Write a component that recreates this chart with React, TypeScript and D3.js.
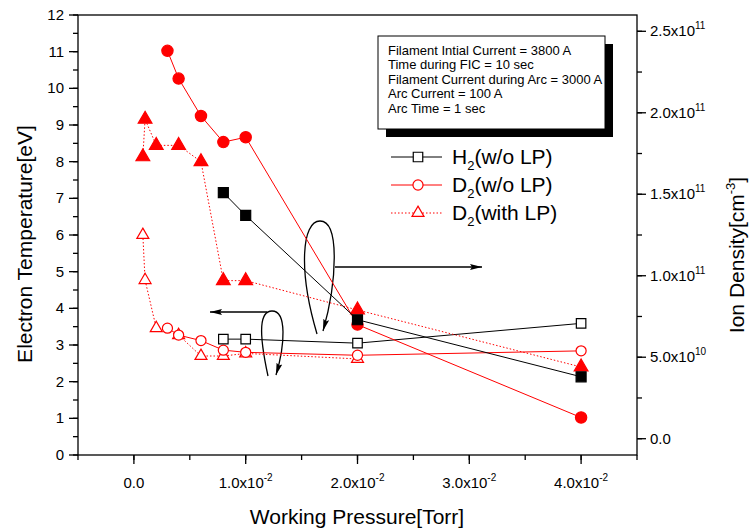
import * as d3 from "d3";

// working pressure [Torr] and values
// ion density (right axis) - filled symbols
const h2DensP = [0.008, 0.01, 0.02, 0.04];
const h2Dens = [1.51e11, 1.37e11, 0.73e11, 0.38e11];
const d2DensP = [0.003, 0.004, 0.006, 0.008, 0.01, 0.02, 0.04];
const d2Dens = [2.38e11, 2.21e11, 1.98e11, 1.82e11, 1.85e11, 0.7e11, 0.13e11];
const d2LpDensP = [0.0008, 0.001, 0.002, 0.004, 0.006, 0.008, 0.01, 0.02, 0.04];
const d2LpDens = [1.73e11, 1.96e11, 1.8e11, 1.8e11, 1.7e11, 0.97e11, 0.97e11, 0.79e11, 0.44e11];

// electron temperature (left axis) - open symbols
const h2TempP = [0.008, 0.01, 0.02, 0.04];
const h2Temp = [3.16, 3.16, 3.05, 3.59];
const d2TempP = [0.003, 0.004, 0.006, 0.008, 0.01, 0.02, 0.04];
const d2Temp = [3.46, 3.27, 3.12, 2.86, 2.8, 2.72, 2.84];
const d2LpTempP = [0.0008, 0.001, 0.002, 0.004, 0.006, 0.008, 0.01, 0.02];
const d2LpTemp = [6.0, 4.77, 3.46, 3.27, 2.7, 2.7, 2.77, 2.62];

const xTicks = [0, 0.01, 0.02, 0.03, 0.04];
const xTickMain = ["0.0", "1.0x10", "2.0x10", "3.0x10", "4.0x10"];
const xTickSup = ["", "-2", "-2", "-2", "-2"];
const leftTicks = [0, 1, 2, 3, 4, 5, 6, 7, 8, 9, 10, 11, 12];
const rightTicks = [0, 5e10, 1e11, 1.5e11, 2e11, 2.5e11];
const rightTickMain = ["0.0", "5.0x10", "1.0x10", "1.5x10", "2.0x10", "2.5x10"];
const rightTickSup = ["", "10", "11", "11", "11", "11"];

const infoLines = [
  "Filament Intial Current = 3800 A",
  "Time during FIC = 10 sec",
  "Filament Current during Arc = 3000 A",
  "Arc Current = 100 A",
  "Arc Time = 1 sec",
];

const FONT = "'Liberation Sans', Arial, sans-serif";
const RED = "#ff0000";

const x = d3.scaleLinear().domain([-0.005, 0.045]).range([78, 637]);
const yL = d3.scaleLinear().domain([0, 12]).range([455, 15]);
const yR = d3.scaleLinear().domain([-0.1e11, 2.6e11]).range([455, 15]);

const zip = (a: number[], b: number[]) => a.map((v, i) => [v, b[i]] as [number, number]);

const sym = (type: d3.SymbolType, size: number) => d3.symbol().type(type).size(size)() as string;
const SQ = sym(d3.symbolSquare, 90);
const SQ_F = sym(d3.symbolSquare, 100);
const CI = sym(d3.symbolCircle, 80);
const CI_F = sym(d3.symbolCircle, 100);
const TRI = sym(d3.symbolTriangle, 62);
const TRI_F = sym(d3.symbolTriangle, 82);

function Series(props: {
  pts: [number, number][];
  y: d3.ScaleLinear<number, number>;
  color: string;
  dash?: string;
  marker: string;
  filled: boolean;
}) {
  const { pts, y, color, dash, marker, filled } = props;
  const line = d3
    .line<[number, number]>()
    .x((d) => x(d[0]))
    .y((d) => y(d[1]));
  return (
    <g>
      <path d={line(pts) || ""} fill="none" stroke={color} strokeWidth={1} strokeDasharray={dash} />
      {pts.map((d, i) => (
        <path
          key={i}
          d={marker}
          transform={`translate(${x(d[0])},${y(d[1])})`}
          fill={filled ? color : "white"}
          stroke={color}
          strokeWidth={1.2}
        />
      ))}
    </g>
  );
}

export default function App() {
  const xMinor = d3.range(-0.005, 0.0451, 0.005);
  const lMinor = d3.range(0, 12.01, 0.5);
  const rMinor = d3.range(0, 2.51e11, 2.5e10);

  const legend = [
    { label: "H", sub: "2", rest: "(w/o LP)", color: "#000", dash: undefined, marker: SQ },
    { label: "D", sub: "2", rest: "(w/o LP)", color: RED, dash: undefined, marker: CI },
    { label: "D", sub: "2", rest: "(with LP)", color: RED, dash: "1.5,2", marker: TRI },
  ];

  return (
    <svg
      width={754}
      height={532}
      style={{ position: "absolute", left: 0, top: 0, background: "white" }}
      fontFamily={FONT}
    >
      <defs>
        <marker id="ah" viewBox="0 0 12 6" refX="12" refY="3" markerWidth="12" markerHeight="6" markerUnits="userSpaceOnUse" orient="auto">
          <path d="M0,0 L12,3 L0,6 L2,3 Z" fill="#000" />
        </marker>
      </defs>

      {/* frame */}
      <rect x={78} y={15} width={559} height={440} fill="none" stroke="#000" strokeWidth={1.3} />

      {/* x ticks */}
      {xMinor.map((v, i) => (
        <line key={"xm" + i} x1={x(v)} x2={x(v)} y1={455} y2={460} stroke="#000" strokeWidth={1.3} />
      ))}
      {xTicks.map((v, i) => (
        <g key={"xt" + i}>
          <line x1={x(v)} x2={x(v)} y1={455} y2={464} stroke="#000" strokeWidth={1.3} />
          <text x={x(v)} y={488} textAnchor="middle" fontSize={15}>
            <tspan>{xTickMain[i]}</tspan>
            {xTickSup[i] && (
              <tspan dy={-7} fontSize={10}>
                {xTickSup[i]}
              </tspan>
            )}
          </text>
        </g>
      ))}

      {/* left ticks */}
      {lMinor.map((v, i) => (
        <line key={"lm" + i} x1={73} x2={78} y1={yL(v)} y2={yL(v)} stroke="#000" strokeWidth={1.3} />
      ))}
      {leftTicks.map((v) => (
        <g key={"lt" + v}>
          <line x1={69} x2={78} y1={yL(v)} y2={yL(v)} stroke="#000" strokeWidth={1.3} />
          <text x={64} y={yL(v) + 5} textAnchor="end" fontSize={15}>
            {v}
          </text>
        </g>
      ))}

      {/* right ticks */}
      {rMinor.map((v, i) => (
        <line key={"rm" + i} x1={637} x2={642} y1={yR(v)} y2={yR(v)} stroke="#000" strokeWidth={1.3} />
      ))}
      {rightTicks.map((v, i) => (
        <g key={"rt" + i}>
          <line x1={637} x2={646} y1={yR(v)} y2={yR(v)} stroke="#000" strokeWidth={1.3} />
          <text x={650} y={yR(v) + 5} textAnchor="start" fontSize={15}>
            <tspan>{rightTickMain[i]}</tspan>
            {rightTickSup[i] && (
              <tspan dy={-7} fontSize={10}>
                {rightTickSup[i]}
              </tspan>
            )}
          </text>
        </g>
      ))}

      {/* axis titles */}
      <text x={357} y={524} textAnchor="middle" fontSize={21}>
        Working Pressure[Torr]
      </text>
      <text transform="translate(32,244) rotate(-90)" textAnchor="middle" fontSize={21}>
        Electron Temperature[eV]
      </text>
      <text transform="translate(744,255) rotate(-90)" textAnchor="middle" fontSize={21}>
        <tspan>Ion Density[cm</tspan>
        <tspan dy={-9} fontSize={13}>-3</tspan>
        <tspan dy={9}>]</tspan>
      </text>

      {/* info box */}
      <rect x={386} y={44} width={227} height={93} fill="#000" />
      <rect x={378} y={36} width={227} height={93} fill="white" stroke="#000" strokeWidth={1} />
      {infoLines.map((t, i) => (
        <text key={t} x={388} y={55 + i * 14.4} fontSize={13}>
          {t}
        </text>
      ))}

      {/* legend */}
      {legend.map((l, i) => {
        const ly = 157 + i * 28;
        return (
          <g key={i}>
            <line x1={391} x2={442} y1={ly} y2={ly} stroke={l.color} strokeWidth={1} strokeDasharray={l.dash} />
            <path d={l.marker} transform={`translate(418,${ly})`} fill="white" stroke={l.color} strokeWidth={1.2} />
            <text x={452} y={ly + 7} fontSize={21}>
              <tspan>{l.label}</tspan>
              <tspan dy={6} fontSize={13}>{l.sub}</tspan>
              <tspan dy={-6}>{l.rest}</tspan>
            </text>
          </g>
        );
      })}

      {/* loops and arrows */}
      <path d="M317,334 C298,270 302,221 320,221 C340,221 337,282 323,331" fill="none" stroke="#000" strokeWidth={1.3} markerEnd="url(#ah)" />
      <line x1={335} x2={482} y1={267} y2={267} stroke="#000" strokeWidth={1.3} markerEnd="url(#ah)" />
      <path d="M268,376 C258,330 260,311 272,311 C287,311 285,345 276,375" fill="none" stroke="#000" strokeWidth={1.3} markerEnd="url(#ah)" />
      <line x1={267} x2={210} y1={312} y2={312} stroke="#000" strokeWidth={1.3} markerEnd="url(#ah)" />

      {/* open symbols: electron temperature */}
      <Series pts={zip(d2LpTempP, d2LpTemp)} y={yL} color={RED} dash="1.5,2" marker={TRI} filled={false} />
      <Series pts={zip(d2TempP, d2Temp)} y={yL} color={RED} marker={CI} filled={false} />
      <Series pts={zip(h2TempP, h2Temp)} y={yL} color="#000" marker={SQ} filled={false} />

      {/* filled symbols: ion density */}
      <Series pts={zip(d2LpDensP, d2LpDens)} y={yR} color={RED} dash="1.5,2" marker={TRI_F} filled={true} />
      <Series pts={zip(d2DensP, d2Dens)} y={yR} color={RED} marker={CI_F} filled={true} />
      <Series pts={zip(h2DensP, h2Dens)} y={yR} color="#000" marker={SQ_F} filled={true} />
    </svg>
  );
}
